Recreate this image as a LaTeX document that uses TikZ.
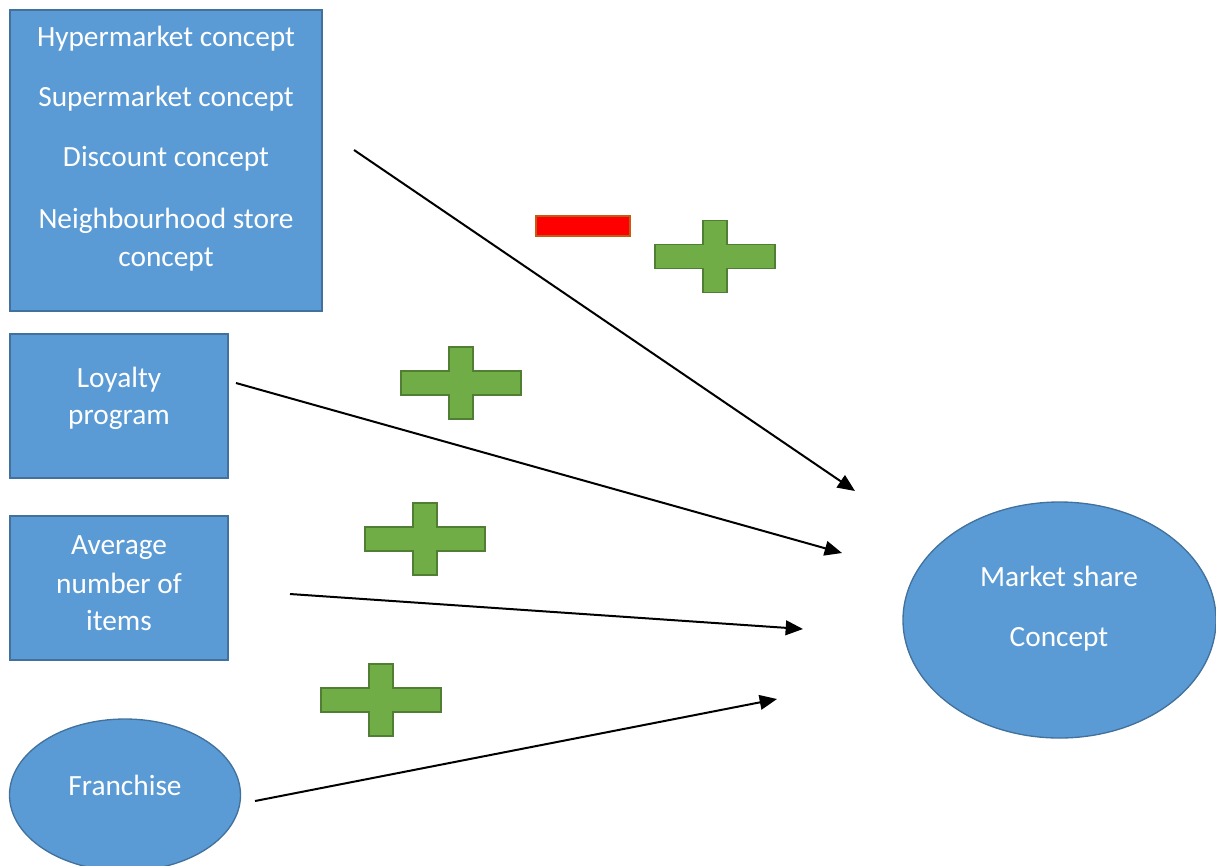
\documentclass[tikz,border=0pt]{standalone}
\usepackage{fontspec}
\setmainfont{Carlito}
\usetikzlibrary{arrows.meta,shapes.geometric}
\definecolor{boxblue}{HTML}{5B9BD5}
\definecolor{boxedge}{HTML}{41719C}
\definecolor{plusgreen}{HTML}{70AD47}
\definecolor{plusedge}{HTML}{507E32}
\definecolor{minusedge}{HTML}{C55A11}
\tikzset{
  shapebox/.style={draw=boxedge, fill=boxblue, line width=1pt, inner sep=0pt, outer sep=0pt},
  lbl/.style={text=white, font=\fontsize{22}{26}\selectfont, inner sep=0pt, text height=16pt, text depth=2pt},
  conn/.style={line width=1.5pt, -{Triangle[length=13pt,width=11pt]}},
  plussign/.pic={\draw[draw=plusedge, fill=plusgreen, line width=1pt]
    (-12,-36)--(12,-36)--(12,-12)--(60,-12)--(60,12)--(12,12)--(12,36)--(-12,36)--(-12,12)--(-60,12)--(-60,-12)--(-12,-12)--cycle;}
}
\begin{document}
\begin{tikzpicture}[x=0.75pt,y=-0.75pt]
\useasboundingbox (0,0) rectangle (1216,865);
\clip (0,0) rectangle (1216,865);
% boxes
\node[shapebox, rectangle, minimum width=234pt, minimum height=225.75pt] (concepts) at (166,160.5) {};
\node[shapebox, rectangle, minimum width=163.5pt, minimum height=108pt] (loyalty) at (119,406) {};
\node[shapebox, rectangle, minimum width=163.5pt, minimum height=108pt] (average) at (119,588) {};
\node[shapebox, ellipse, minimum width=173.25pt, minimum height=114pt] (franchise) at (125,795) {};
\node[shapebox, ellipse, minimum width=234.75pt, minimum height=177pt] (market) at (1059.5,620) {};
% labels
\node[lbl] (t1) at (166,37) {Hypermarket concept};
\node[lbl] (t2) at (166,97) {Supermarket concept};
\node[lbl] (t3) at (166,157) {Discount concept};
\node[lbl] (t4) at (166,219) {Neighbourhood store};
\node[lbl] (t5) at (166,257) {concept};
\node[lbl] (t6) at (119,378) {Loyalty};
\node[lbl] (t7) at (119,415) {program};
\node[lbl] (t8) at (119,545) {Average};
\node[lbl] (t9) at (119,584) {number of};
\node[lbl] (t10) at (119,621) {items};
\node[lbl] (t11) at (125,786) {Franchise};
\node[lbl] (t12) at (1059,577) {Market share};
\node[lbl] (t13) at (1059,637) {Concept};
% signs
\node[draw=minusedge, fill=red, line width=1pt, inner sep=0pt, minimum width=70.5pt, minimum height=15pt] (minus) at (583,226) {};
\pic (p1) at (715,256.5) {plussign};
\pic (p2) at (461,383) {plussign};
\pic (p3) at (425,539) {plussign};
\pic (p4) at (381,700) {plussign};
% arrows
\coordinate (a1s) at (354,150); \coordinate (a1e) at (855,491);
\coordinate (a2s) at (236,383); \coordinate (a2e) at (842,553);
\coordinate (a3s) at (290,594); \coordinate (a3e) at (803,629);
\coordinate (a4s) at (255,801); \coordinate (a4e) at (777,699);
\draw[conn] (a1s) -- (a1e);
\draw[conn] (a2s) -- (a2e);
\draw[conn] (a3s) -- (a3e);
\draw[conn] (a4s) -- (a4e);
\end{tikzpicture}
\end{document}
